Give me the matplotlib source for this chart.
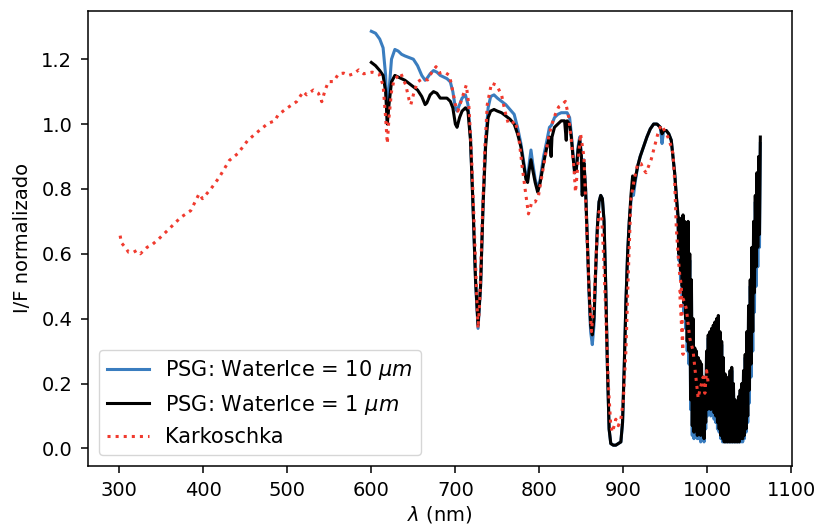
import matplotlib
matplotlib.use("Agg")
import matplotlib.pyplot as plt

# Karkoschka (red dotted)
lam_kark = [301, 302.5, 307, 311, 317, 320.5, 325, 333, 339, 347, 359, 373, 385, 395, 399,
            409, 419, 431, 441, 453, 467, 477, 485, 489, 499, 511, 519, 523, 531, 537,
            541, 545, 549, 555, 561, 567, 573, 579, 585, 591, 601, 609, 614, 617, 619,
            621, 624, 627, 635, 641, 645, 647, 651, 655, 661, 667, 672, 677, 681, 685,
            689, 693, 697, 700, 703, 708, 713, 716, 719, 722, 725, 727, 729, 732, 735,
            738, 743, 749, 755, 759, 763, 767, 771, 775, 779, 783, 787, 789, 791, 795,
            799, 803, 807, 811, 815, 819, 823, 827, 831, 835, 838, 841, 843, 846, 849,
            853, 856, 859, 862, 865, 868, 871, 874, 876, 879, 882, 885, 887, 891, 894,
            897, 900, 903, 906, 909, 913, 917, 921, 924, 927, 930, 933, 937, 941, 945,
            949, 953, 957, 959, 961, 963, 965, 967, 969, 971, 967, 973, 975, 979, 983,
            985, 989, 991, 993, 995, 997, 999, 1001]
val_kark = [0.656, 0.634, 0.62, 0.605, 0.605, 0.61, 0.60, 0.62, 0.628, 0.646, 0.676, 0.712,
            0.733, 0.785, 0.77, 0.80, 0.836, 0.888, 0.909, 0.95, 0.981, 1.002, 1.01, 1.028,
            1.048, 1.069, 1.10, 1.09, 1.105, 1.095, 1.069, 1.105, 1.131, 1.131, 1.155, 1.157,
            1.15, 1.155, 1.167, 1.155, 1.16, 1.155, 1.12, 1.02, 0.94, 1.02, 1.10, 1.136,
            1.157, 1.12, 1.074, 1.06, 1.10, 1.13, 1.14, 1.136, 1.16, 1.177, 1.157, 1.16,
            1.157, 1.15, 1.10, 1.06, 1.04, 1.08, 1.12, 1.06, 0.92, 0.72, 0.50, 0.37, 0.45,
            0.70, 0.92, 1.06, 1.126, 1.12, 1.09, 1.04, 1.002, 1.00, 1.01, 0.97, 0.88, 0.80,
            0.723, 0.74, 0.76, 0.76, 0.78, 0.84, 0.90, 0.96, 1.00, 1.03, 1.053, 1.06, 1.07,
            1.02, 0.95, 0.87, 0.79, 0.88, 0.97, 0.90, 0.70, 0.50, 0.36, 0.45, 0.62, 0.73,
            0.72, 0.62, 0.42, 0.20, 0.07, 0.05, 0.09, 0.07, 0.09, 0.15, 0.30, 0.55, 0.77,
            0.83, 0.878, 0.878, 0.86, 0.85, 0.87, 0.89, 0.93, 0.97, 0.997, 0.98, 0.96, 0.93,
            0.909, 0.826, 0.68, 0.60, 0.537, 0.50, 0.29, 0.485, 0.45, 0.43, 0.34, 0.30,
            0.25, 0.155, 0.18, 0.20, 0.22, 0.17, 0.24, 0.20]

# PSG WaterIce = 1 um (black)
lam_1um = [600, 605, 610, 614, 617, 619, 621, 624, 628, 632, 636, 640, 645, 650, 655, 660,
           664, 666, 670, 674, 678, 682, 686, 690, 694, 697, 700, 702, 705, 708, 712, 715,
           718, 721, 724, 727, 730, 733, 736, 739, 742, 746, 750, 755, 760, 765, 770, 774,
           778, 781, 784, 786, 788, 790, 792, 795, 798, 801, 805, 809, 812, 814, 815, 818,
           822, 826, 830, 832, 833, 836, 838, 840, 842, 844, 846, 848, 850, 851, 853, 855,
           857, 859, 861, 863, 865, 867, 869, 871, 873, 875, 877, 879, 881, 883, 885, 888,
           891, 894, 897, 899, 901, 903, 905, 907, 909, 911, 912, 914, 917, 920, 924, 928,
           932, 936, 940, 944, 946, 948, 951, 954, 957, 959, 961, 963,
           965, 966, 967, 968, 969, 970, 971, 972, 973, 974, 975, 976, 977, 978, 979, 980,
           981, 982, 983, 984, 985, 986, 987, 988, 989, 990, 991, 992, 993, 994, 995, 996,
           997, 998, 999, 1000, 1001, 1002, 1003, 1004, 1005, 1006, 1007, 1008, 1009, 1010,
           1011, 1012, 1013, 1014, 1015, 1016, 1017, 1018, 1019, 1020, 1021, 1022, 1023,
           1024, 1025, 1026, 1027, 1028, 1029, 1030, 1031, 1032, 1033, 1034, 1035, 1036,
           1037, 1038, 1039, 1040, 1041, 1042, 1043, 1044, 1045, 1046, 1047, 1048, 1049,
           1050, 1051, 1052, 1053, 1054, 1055, 1056, 1057, 1058, 1059, 1060, 1061, 1062, 1063]
val_1um = [1.19, 1.18, 1.165, 1.15, 1.10, 1.00, 1.06, 1.13, 1.15, 1.145, 1.14, 1.135, 1.125,
           1.115, 1.105, 1.085, 1.06, 1.065, 1.09, 1.10, 1.095, 1.08, 1.08, 1.08, 1.07, 1.05,
           1.00, 0.99, 1.02, 1.04, 1.05, 1.04, 0.95, 0.75, 0.52, 0.38, 0.50, 0.75, 0.93, 1.02,
           1.04, 1.045, 1.04, 1.035, 1.025, 1.015, 1.00, 0.97, 0.93, 0.88, 0.83, 0.82, 0.86,
           0.89, 0.86, 0.82, 0.79, 0.82, 0.88, 0.93, 0.96, 0.90, 0.96, 0.99, 1.00, 1.01, 1.01,
           0.95, 1.01, 1.00, 0.96, 0.90, 0.85, 0.86, 0.92, 0.95, 0.90, 0.78, 0.88, 0.80, 0.65,
           0.50, 0.38, 0.35, 0.40, 0.55, 0.68, 0.76, 0.78, 0.77, 0.70, 0.50, 0.25, 0.06, 0.015,
           0.01, 0.01, 0.015, 0.02, 0.08, 0.25, 0.45, 0.60, 0.70, 0.78, 0.84, 0.80, 0.83, 0.87,
           0.90, 0.93, 0.96, 0.985, 1.00, 1.00, 0.99, 0.97, 0.98, 0.98, 0.97, 0.95, 0.90, 0.85,
           0.78,
           0.72, 0.60, 0.71, 0.55, 0.70, 0.50, 0.72, 0.45, 0.70, 0.40, 0.69, 0.33, 0.70, 0.30,
           0.60, 0.15, 0.52, 0.07, 0.40, 0.05, 0.31, 0.06, 0.30, 0.04, 0.28, 0.05, 0.27, 0.04,
           0.26, 0.06, 0.22, 0.03, 0.19, 0.08, 0.30, 0.12, 0.35, 0.14, 0.36, 0.12, 0.37, 0.13,
           0.38, 0.11, 0.39, 0.10, 0.40, 0.08, 0.41, 0.06, 0.36, 0.04, 0.33, 0.03, 0.28, 0.02,
           0.23, 0.02, 0.21, 0.02, 0.22, 0.02, 0.24, 0.02, 0.25, 0.02, 0.20, 0.02, 0.15, 0.02,
           0.13, 0.02, 0.16, 0.02, 0.18, 0.03, 0.20, 0.03, 0.24, 0.04, 0.29, 0.06, 0.36, 0.10,
           0.44, 0.18, 0.52, 0.26, 0.62, 0.36, 0.70, 0.48, 0.78, 0.56, 0.85, 0.62, 0.90, 0.66,
           0.96]

# PSG WaterIce = 10 um (blue)
lam_10um = lam_1um
val_10um = [1.286, 1.28, 1.262, 1.235, 1.15, 1.01, 1.10, 1.20, 1.23, 1.225, 1.215, 1.21,
            1.205, 1.20, 1.18, 1.15, 1.135, 1.14, 1.155, 1.165, 1.16, 1.15, 1.145, 1.14, 1.13,
            1.10, 1.05, 1.04, 1.06, 1.08, 1.09, 1.06, 0.96, 0.75, 0.52, 0.37, 0.50, 0.76, 0.95,
            1.05, 1.085, 1.09, 1.08, 1.07, 1.06, 1.045, 1.03, 0.99, 0.94, 0.89, 0.84, 0.83,
            0.88, 0.92, 0.88, 0.83, 0.80, 0.83, 0.90, 0.95, 0.99, 0.995, 1.00, 1.02, 1.03,
            1.035, 1.035, 1.035, 1.035, 1.02, 0.97, 0.91, 0.85, 0.86, 0.93, 0.96, 0.91, 0.79,
            0.89, 0.80, 0.64, 0.48, 0.36, 0.32, 0.38, 0.54, 0.68, 0.76, 0.78, 0.77, 0.70, 0.50,
            0.25, 0.06, 0.015, 0.01, 0.01, 0.015, 0.02, 0.08, 0.25, 0.45, 0.60, 0.70, 0.76,
            0.82, 0.78, 0.82, 0.87, 0.90, 0.93, 0.96, 0.985, 1.00, 1.00, 0.99, 0.94, 0.98, 0.98,
            0.97, 0.95, 0.90, 0.85, 0.78,
            0.70, 0.58, 0.70, 0.52, 0.69, 0.47, 0.71, 0.42, 0.69, 0.37, 0.68, 0.30, 0.68, 0.26,
            0.58, 0.12, 0.50, 0.04, 0.38, 0.03, 0.30, 0.04, 0.29, 0.03, 0.27, 0.03, 0.26, 0.02,
            0.25, 0.04, 0.21, 0.02, 0.18, 0.06, 0.29, 0.10, 0.34, 0.12, 0.35, 0.10, 0.36, 0.11,
            0.37, 0.09, 0.38, 0.08, 0.39, 0.06, 0.40, 0.05, 0.35, 0.03, 0.32, 0.02, 0.27, 0.02,
            0.22, 0.02, 0.20, 0.02, 0.21, 0.02, 0.23, 0.02, 0.24, 0.02, 0.19, 0.02, 0.14, 0.02,
            0.12, 0.02, 0.15, 0.02, 0.17, 0.02, 0.19, 0.02, 0.23, 0.03, 0.28, 0.05, 0.34, 0.08,
            0.42, 0.14, 0.50, 0.22, 0.60, 0.30, 0.68, 0.42, 0.76, 0.50, 0.83, 0.56, 0.88, 0.62,
            0.94]

fig = plt.figure(figsize=(8.16, 5.30), dpi=100)
ax = fig.add_subplot(111)
fig.subplots_adjust(left=0.108, right=0.971, top=0.980, bottom=0.121)

ax.plot(lam_10um, val_10um, color="#3a7dbf", lw=2.2, label="PSG: WaterIce = 10 $\\mu m$")
ax.plot(lam_1um, val_1um, color="black", lw=2.2, label="PSG: WaterIce = 1 $\\mu m$")
ax.plot(lam_kark, val_kark, color="#f03a2e", lw=2.2, ls=":", label="Karkoschka")

ax.set_xticks([300, 400, 500, 600, 700, 800, 900, 1000, 1100])
ax.set_yticks([0.0, 0.2, 0.4, 0.6, 0.8, 1.0, 1.2])
ax.tick_params(labelsize=14, length=4.9, width=1.1)
ax.tick_params(axis="y", pad=6.5)
ax.tick_params(axis="x", pad=6)
for s in ax.spines.values():
    s.set_linewidth(1.1)
ax.set_xlabel("$\\lambda$ (nm)", fontsize=14, labelpad=3)
ax.set_ylabel("I/F normalizado", fontsize=14, labelpad=7)
ax.legend(loc="lower left", fontsize=15)

fig.savefig("out.png", dpi=100)
